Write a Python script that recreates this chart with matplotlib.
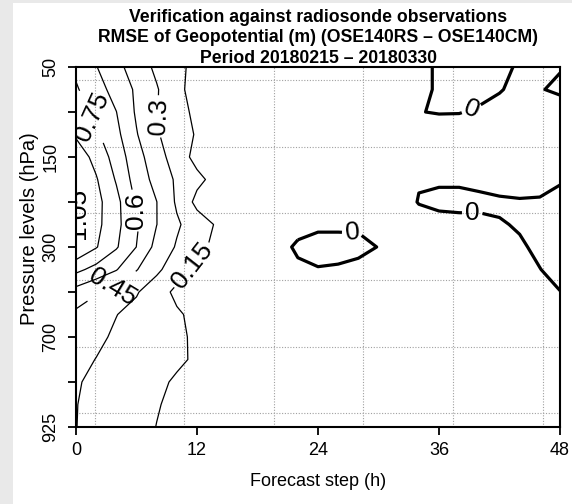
import matplotlib
matplotlib.use("Agg")
import matplotlib.pyplot as plt
from matplotlib.patches import Rectangle
import numpy as np

plt.rcParams['font.family'] = ['Liberation Sans', 'DejaVu Sans']

# forecast steps (h) and vertical positions (level index, half-level rows)
steps = [0, 2, 4, 6, 8, 10, 12, 14, 16, 18, 20, 22, 24,
         26, 28, 30, 32, 34, 36, 38, 40, 42, 44, 46, 48]
rows = [0, 0.5, 1, 1.5, 2, 2.5, 3, 3.5, 4, 4.5, 5, 5.5, 6, 6.5, 7, 7.5, 8]

level_ticks = [0, 1, 2, 3, 4, 5, 6, 7, 8]
level_labels = ['50', '', '150', '', '300', '', '700', '', '925']
step_ticks = [0, 12, 24, 36, 48]

# RMSE difference (m), one list per row, left to right in forecast step
rmse_diff = [
    [0.720, 0.606, 0.494, 0.378, 0.271, 0.188, 0.106, 0.090, 0.080, 0.070, 0.060, 0.060, 0.050, 0.050, 0.040, 0.040, 0.030, 0.020, -0.010, -0.030, -0.030, -0.020, 0.010, 0.020, 0.011],
    [0.766, 0.659, 0.546, 0.427, 0.312, 0.188, 0.090, 0.080, 0.070, 0.070, 0.060, 0.060, 0.050, 0.050, 0.050, 0.040, 0.040, 0.020, -0.010, -0.030, -0.025, -0.005, 0.020, 0.010, -0.030],
    [0.831, 0.715, 0.602, 0.431, 0.306, 0.208, 0.114, 0.090, 0.080, 0.070, 0.070, 0.060, 0.060, 0.050, 0.050, 0.050, 0.040, 0.002, -0.004, -0.003, 0.010, 0.025, 0.030, 0.050, 0.090],
    [0.880, 0.776, 0.638, 0.459, 0.314, 0.223, 0.136, 0.100, 0.090, 0.080, 0.070, 0.070, 0.060, 0.060, 0.050, 0.050, 0.050, 0.040, 0.040, 0.040, 0.050, 0.050, 0.060, 0.070, 0.080],
    [0.989, 0.852, 0.688, 0.503, 0.365, 0.225, 0.105, 0.090, 0.080, 0.080, 0.070, 0.070, 0.060, 0.060, 0.060, 0.050, 0.050, 0.040, 0.040, 0.050, 0.060, 0.070, 0.070, 0.080, 0.060],
    [1.040, 0.913, 0.736, 0.535, 0.402, 0.277, 0.186, 0.100, 0.090, 0.080, 0.070, 0.070, 0.060, 0.060, 0.050, 0.040, 0.030, 0.003, 0.016, 0.016, 0.035, 0.057, 0.053, 0.071, 0.013],
    [1.062, 0.946, 0.794, 0.580, 0.452, 0.280, 0.110, 0.090, 0.080, 0.070, 0.060, 0.050, 0.050, 0.050, 0.040, 0.030, 0.020, -0.002, -0.030, -0.030, -0.030, -0.020, -0.010, -0.020, -0.040],
    [1.062, 0.942, 0.792, 0.618, 0.452, 0.320, 0.223, 0.134, 0.100, 0.080, 0.060, 0.043, 0.018, 0.018, 0.018, 0.030, 0.030, 0.018, 0.045, 0.033, 0.033, 0.009, -0.010, -0.030, -0.050],
    [1.040, 0.910, 0.765, 0.598, 0.402, 0.286, 0.195, 0.110, 0.080, 0.060, 0.045, -0.020, -0.035, -0.035, -0.030, 0.003, 0.020, 0.030, 0.040, 0.040, 0.030, 0.020, 0.013, -0.020, -0.040],
    [0.790, 0.700, 0.609, 0.458, 0.331, 0.213, 0.110, 0.090, 0.070, 0.060, 0.050, 0.022, 0.005, 0.011, 0.030, 0.040, 0.040, 0.040, 0.050, 0.050, 0.040, 0.030, 0.030, 0.002, -0.030],
    [0.540, 0.465, 0.388, 0.312, 0.215, 0.118, 0.100, 0.090, 0.080, 0.070, 0.060, 0.050, 0.050, 0.050, 0.050, 0.050, 0.050, 0.050, 0.050, 0.050, 0.050, 0.040, 0.040, 0.030, 0.002],
    [0.420, 0.360, 0.303, 0.257, 0.213, 0.168, 0.114, 0.090, 0.080, 0.070, 0.060, 0.060, 0.050, 0.050, 0.050, 0.050, 0.050, 0.050, 0.050, 0.050, 0.050, 0.050, 0.040, 0.040, 0.040],
    [0.400, 0.329, 0.279, 0.244, 0.208, 0.173, 0.129, 0.100, 0.090, 0.080, 0.070, 0.060, 0.060, 0.060, 0.050, 0.050, 0.050, 0.050, 0.050, 0.050, 0.050, 0.050, 0.050, 0.040, 0.040],
    [0.340, 0.297, 0.265, 0.232, 0.200, 0.168, 0.135, 0.100, 0.090, 0.080, 0.070, 0.060, 0.060, 0.060, 0.060, 0.050, 0.050, 0.050, 0.050, 0.050, 0.050, 0.050, 0.050, 0.050, 0.050],
    [0.310, 0.276, 0.241, 0.207, 0.172, 0.136, 0.110, 0.090, 0.080, 0.070, 0.070, 0.060, 0.060, 0.060, 0.060, 0.060, 0.050, 0.050, 0.050, 0.050, 0.050, 0.050, 0.050, 0.050, 0.050],
    [0.303, 0.270, 0.234, 0.195, 0.157, 0.125, 0.100, 0.090, 0.080, 0.070, 0.070, 0.060, 0.060, 0.060, 0.060, 0.060, 0.060, 0.050, 0.050, 0.050, 0.050, 0.050, 0.050, 0.050, 0.050],
    [0.302, 0.263, 0.225, 0.188, 0.148, 0.120, 0.100, 0.090, 0.080, 0.070, 0.070, 0.060, 0.060, 0.060, 0.060, 0.060, 0.060, 0.060, 0.050, 0.050, 0.050, 0.050, 0.050, 0.050, 0.050],
]

contour_levels = [0, 0.15, 0.3, 0.45, 0.6, 0.75, 0.9, 1.05]

# where the contour labels sit (step, level index)
label_spots = [(1.6, 1.1), (8.1, 1.1), (5.65, 3.2), (3.6, 4.9), (11.5, 4.4),
               (0.2, 3.25), (39.1, 0.87), (27.4, 3.67), (39.3, 3.28)]
# labels that read upwards in the original
label_turn = {'0.15': 52, '0.6': 90, '1.05': 90}

# dotted grid lines
grid_x = [1.9, 10.7, 19.6, 28.5, 37.4, 46.3]
grid_y = [0.29, 1.78, 3.24, 4.73, 6.22, 7.69]

fig = plt.figure(figsize=(5.72, 5.04), dpi=100)
fig.patch.set_facecolor('#e9e9e9')
fig.add_artist(Rectangle((13 / 572, 0), 1, 501 / 504, transform=fig.transFigure,
                         facecolor='white', edgecolor='none', zorder=-5))

ax = fig.add_axes([76 / 572, 77 / 504, 484 / 572, 360 / 504])

z = np.array(rmse_diff)
lws = [2.3] + [0.9] * (len(contour_levels) - 1)
cs = ax.contour(steps, rows, z, levels=contour_levels, colors='k', linewidths=lws, zorder=3)
texts = ax.clabel(cs, fmt=lambda v: f"{v:g}", manual=label_spots, inline=True,
                  fontsize=19, inline_spacing=3)
for t in texts:
    if t.get_text() in label_turn:
        t.set_rotation(label_turn[t.get_text()])

ax.set_xlim(0, 48)
ax.set_ylim(8, 0)
ax.set_xticks(step_ticks)
ax.set_yticks(level_ticks)
ax.set_yticklabels(level_labels)
ax.set_xticks(grid_x, minor=True)
ax.set_yticks(grid_y, minor=True)
ax.grid(which='minor', linestyle=(0, (1, 1.5)), color='#a0a0a0', linewidth=0.8)
ax.grid(which='major', visible=False)
ax.tick_params(which='minor', length=0)
ax.tick_params(which='major', direction='out', length=6, width=1.3, labelsize=13)
ax.tick_params(axis='x', pad=5)
ax.tick_params(axis='y', pad=6, labelrotation=90)
for lab in ax.get_yticklabels():
    lab.set_va('center')
for sp in ax.spines.values():
    sp.set_linewidth(1.5)

ax.set_xlabel('Forecast step (h)', fontsize=13, labelpad=10)
ax.set_ylabel('Pressure levels (hPa)', fontsize=14.5)
ax.yaxis.set_label_coords(-0.077, 0.55)
ax.set_title('Verification against radiosonde observations\n'
             'RMSE of Geopotential (m) (OSE140RS \u2013 OSE140CM)\n'
             'Period 20180215 \u2013 20180330',
             fontsize=12.7, fontweight='bold', linespacing=1.28, pad=1)

fig.savefig('out.png', dpi=100)
